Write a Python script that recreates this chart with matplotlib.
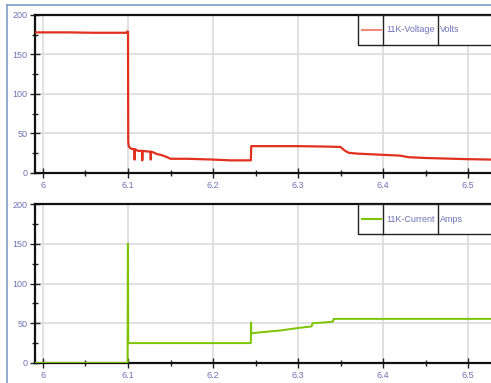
import matplotlib
matplotlib.use("Agg")
import matplotlib.pyplot as plt
from matplotlib.lines import Line2D
from matplotlib.patches import Rectangle
from matplotlib.ticker import MultipleLocator

plt.rcParams['font.family'] = ['Liberation Sans', 'DejaVu Sans']

# voltage trace (Volts)
volt_t = [5.9906, 6.03, 6.06, 6.0985, 6.099, 6.1, 6.1003, 6.1008, 6.103, 6.1075,
          6.1078, 6.1081, 6.112, 6.1165, 6.1168, 6.1171, 6.125, 6.1265, 6.1268,
          6.1271, 6.13, 6.134, 6.14, 6.146, 6.15, 6.17, 6.2, 6.22, 6.2445, 6.245,
          6.26, 6.3, 6.33, 6.35, 6.353, 6.357, 6.36, 6.37, 6.4, 6.42, 6.43, 6.45,
          6.5, 6.527]
volt_v = [178, 178, 177.5, 177.5, 179, 179, 40, 34, 31, 30,
          17, 30, 28, 28, 16, 28, 27, 27, 17,
          27, 26, 24, 22.5, 20, 18, 18, 17, 16, 16, 34,
          34, 34, 33.5, 33, 30, 27, 25.5, 24.5, 23, 22, 20, 19,
          17.5, 17]

# current trace (Amps)
amp_t = [5.9906, 6.0995, 6.0998, 6.1, 6.1003, 6.1006, 6.15, 6.2, 6.2445, 6.2448,
         6.2451, 6.25, 6.28, 6.3, 6.316, 6.317, 6.33, 6.341, 6.342, 6.4, 6.5, 6.527]
amp_v = [0, 0, 150, 150, 25, 25, 25, 25, 25, 51,
         37, 38, 41, 44, 46, 50, 51, 52, 55.5, 55.5, 55.5, 55.5]

legend_names = ['11K-Voltage', '11K-Current']
legend_units = ['Volts', 'Amps']

xmin, xmax = 5.9906, 6.527
label_col = '#6f72b8'

fig = plt.figure(figsize=(4.91, 3.83), dpi=100)

# outer frame (top and left edges only visible)
frame_col = '#7f9cc8'
fig.add_artist(Line2D([7/491, 7/491], [0, 1 - 5/383], color=frame_col, lw=1.2, transform=fig.transFigure))
fig.add_artist(Line2D([7/491, 1], [1 - 5/383, 1 - 5/383], color=frame_col, lw=1.2, transform=fig.transFigure))

left = 35/491
width = 1 - left
ax1 = fig.add_axes([left, 1 - 173/383, width, 158/383])
ax2 = fig.add_axes([left, 1 - 363/383, width, 159/383])

series = [(ax1, volt_t, volt_v, '#e2301e', '#f28a7c', 1.6),
          (ax2, amp_t, amp_v, '#7cc400', '#7cc400', 1.4)]

for k, (ax, t, v, col, legcol, lw) in enumerate(series):
    ax.set_xlim(xmin, xmax)
    ax.set_ylim(0, 200)
    ax.xaxis.set_major_locator(MultipleLocator(0.1))
    ax.xaxis.set_minor_locator(MultipleLocator(0.05))
    ax.yaxis.set_major_locator(MultipleLocator(50))
    ax.yaxis.set_minor_locator(MultipleLocator(25))
    ax.xaxis.set_major_formatter(plt.FuncFormatter(lambda x, p: f'{x:g}'))
    ax.grid(True, which='major', color='#dcdcdc', lw=1.2)
    ax.set_axisbelow(True)
    for s in ['left', 'bottom', 'top']:
        ax.spines[s].set_linewidth(1.6)
        ax.spines[s].set_color('#111111')
    ax.spines['right'].set_visible(False)
    ax.tick_params(which='major', direction='inout', length=7, width=1.0,
                   labelsize=6.5, labelcolor=label_col, pad=2, color='#222222')
    ax.tick_params(which='minor', direction='inout', length=4, width=1.0, color='#222222')
    ax.plot(t, v, color=col, lw=lw, zorder=3)

    # table-style legend in the top right corner
    y0 = 1 - 30 / (158 if k == 0 else 159)
    x0 = (358 - 35) / 456
    ax.add_patch(Rectangle((x0, y0), 1.1 - x0, 1 - y0, transform=ax.transAxes,
                           facecolor='white', edgecolor='#222222', lw=1.0, zorder=5))
    for xd in [(383 - 35) / 456, (438 - 35) / 456]:
        ax.add_artist(Line2D([xd, xd], [y0, 1], transform=ax.transAxes,
                             color='#222222', lw=1.0, zorder=6))
    ym = (1 + y0) / 2
    ax.add_artist(Line2D([(362 - 35) / 456, (381 - 35) / 456], [ym, ym], transform=ax.transAxes,
                         color=legcol, lw=1.5, zorder=6))
    ax.text((386 - 35) / 456, ym, legend_names[k], transform=ax.transAxes, fontsize=6.5,
            color=label_col, va='center', ha='left', zorder=7)
    ax.text((440 - 35) / 456, ym, legend_units[k], transform=ax.transAxes, fontsize=6.5,
            color=label_col, va='center', ha='left', zorder=7)

plt.savefig('out.png', dpi=100)
